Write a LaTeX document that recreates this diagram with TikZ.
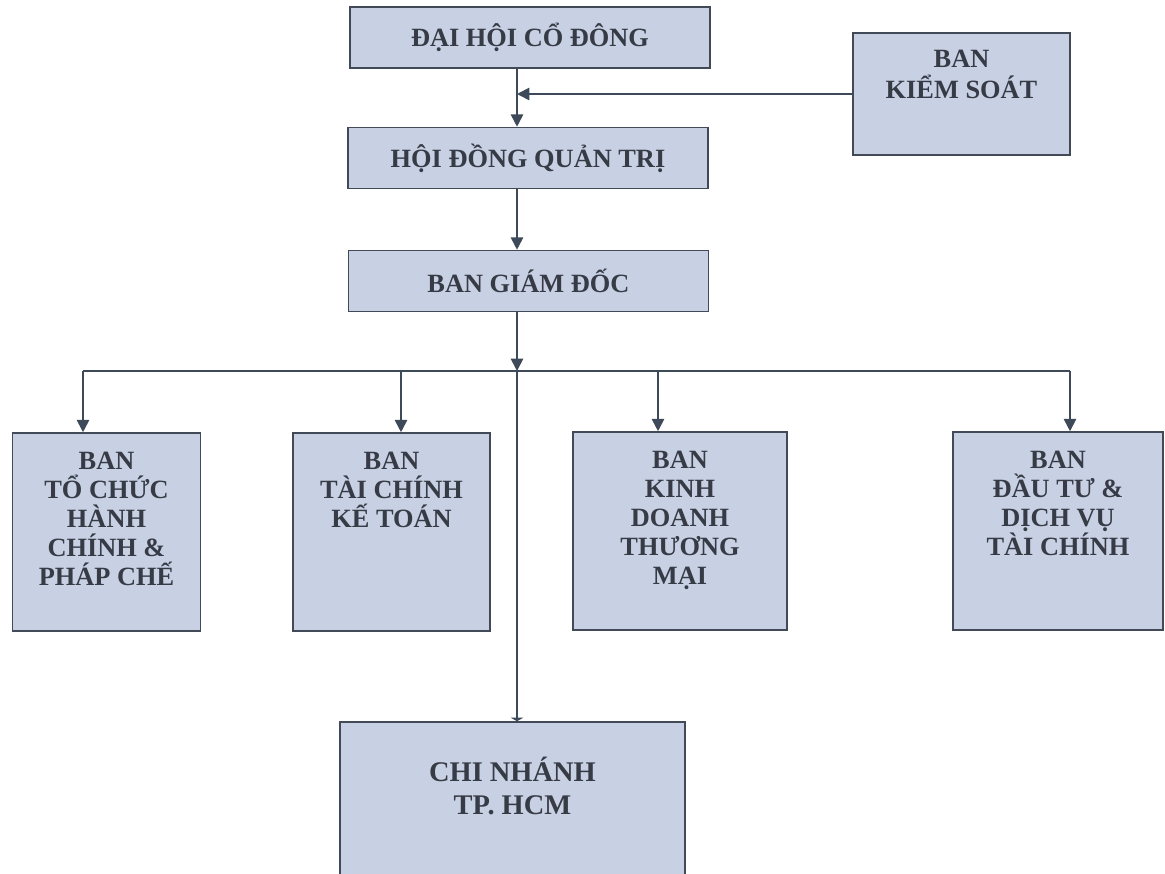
\documentclass[tikz,border=0pt]{standalone}
\usepackage{fontspec}
\setmainfont{Liberation Serif}
\usepackage{tikz}
\usetikzlibrary{arrows.meta, positioning, calc}
\definecolor{BoxFill}{HTML}{C8D0E4}
\definecolor{BoxLine}{HTML}{434A57}
\definecolor{LinkLine}{HTML}{3E4A59}
\definecolor{InkGray}{HTML}{363B45}
% top-aligned text inside a box of fixed size
\newcommand{\boxlines}[4]{\parbox[c][#1][t]{#2}{\centering\vspace*{#3}#4}}

\begin{document}
\begin{tikzpicture}[x=0.02cm, y=-0.02cm,
  unit/.style={draw=BoxLine, fill=BoxFill, line width=0.9pt, inner sep=0pt,
    text=InkGray, font=\bfseries\fontsize{15}{16.5}\selectfont},
  wide/.style={unit, minimum width=7.2cm, minimum height=1.22cm},
  link/.style={draw=LinkLine, line width=1pt},
  arr/.style={link, -{Triangle[width=7pt,length=7pt]}},
  stub/.style={link, -{Triangle[width=7pt,length=2pt]}}]
\useasboundingbox[fill=white] (0,0) rectangle (1165,874);
% --- upper chain ---
\node[wide] (dhcd) at (530,37.5) {ĐẠI HỘI CỔ ĐÔNG};
\node[unit, font=\bfseries\fontsize{15}{18}\selectfont] (bks) at (961.5,94)
  {\boxlines{2.44cm}{4.34cm}{9.5pt}{BAN\\KIỂM SOÁT}};
\node[wide] (hdqt) at (528,158) {HỘI ĐỒNG QUẢN TRỊ};
\node[wide] (bgd) at (528.5,281) {BAN GIÁM ĐỐC};
% --- departments ---
\node[unit] (tchc) at (106.5,532) {\boxlines{3.96cm}{3.76cm}{11pt}{BAN\\TỔ CHỨC\\HÀNH\\CHÍNH \&\\PHÁP CHẾ}};
\node[unit] (tckt) at (391.5,532) {\boxlines{3.96cm}{3.94cm}{11pt}{BAN\\TÀI CHÍNH\\KẾ TOÁN}};
\node[unit] (kdtm) at (680,531) {\boxlines{3.96cm}{4.28cm}{11pt}{BAN\\KINH\\DOANH\\THƯƠNG\\MẠI}};
\node[unit] (dtdv) at (1058,531) {\boxlines{3.96cm}{4.2cm}{11pt}{BAN\\ĐẦU TƯ \&\\DỊCH VỤ\\TÀI CHÍNH}};
\node[unit, font=\bfseries\fontsize{16.2}{19}\selectfont] (cn) at (512.5,802)
  {\boxlines{3.2cm}{6.9cm}{20pt}{CHI NHÁNH\\TP. HCM}};
% --- connectors ---
\coordinate (spine) at (517,0);
\coordinate (hub) at (517,371);
\coordinate (d1) at (83,371);
\coordinate (d2) at (401,371);
\coordinate (d3) at (658,371);
\coordinate (d4) at (1070,371);
\draw[arr] (dhcd.south -| spine) -- (hdqt.north -| spine);
\draw[arr] (bks.west) -- (bks.west -| spine);
\draw[arr] (hdqt.south -| spine) -- (bgd.north -| spine);
\draw[arr] (bgd.south -| spine) -- (hub);
\draw[link] (d1) -- (d4);
\draw[arr] (d1) -- (d1 |- tchc.north);
\draw[arr] (d2) -- (d2 |- tckt.north);
\draw[arr] (d3) -- (d3 |- kdtm.north);
\draw[arr] (d4) -- (d4 |- dtdv.north);
\draw[stub] (hub) -- (hub |- cn.north);
\end{tikzpicture}
\end{document}
